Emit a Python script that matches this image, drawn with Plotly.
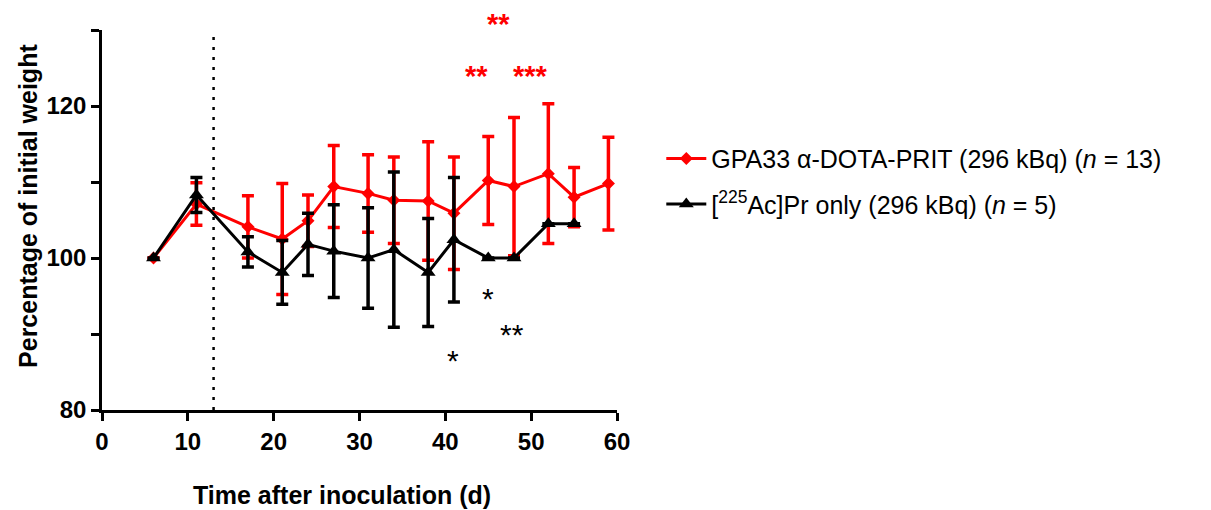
import plotly.graph_objects as go

# Data
days_red = [6, 11, 17, 21, 24, 27, 31, 34, 38, 41, 45, 48, 52, 55, 59]
mean_red = [100, 107.1, 104.1, 102.5, 104.9, 109.4, 108.5, 107.6, 107.5, 105.9, 110.2, 109.4, 111.1, 108.0, 109.8]
err_red = [0, 2.8, 4.1, 7.3, 3.4, 5.4, 5.1, 5.7, 7.8, 7.4, 5.8, 9.1, 9.2, 3.9, 6.1]

days_blk = [6, 11, 17, 21, 24, 27, 31, 34, 38, 41, 45, 48, 52, 55]
mean_blk = [100, 108.3, 100.8, 98.1, 101.8, 100.9, 100.0, 101.1, 98.1, 102.4, 100.0, 100.0, 104.5, 104.5]
err_blk = [0, 2.3, 2.0, 4.2, 4.1, 6.1, 6.6, 10.2, 7.1, 8.2, 0, 0, 0, 0]

name_red = "GPA33 α-DOTA-PRIT (296 kBq) (<i>n</i> = 13)"
name_blk = "[<sup>225</sup>Ac]Pr only (296 kBq) (<i>n</i> = 5)"

x_title = "Time after inoculation (d)"
y_title = "Percentage of initial weight"

treat_day = 13

sig_x = [46.2, 43.6, 49.9, 45.0, 47.8, 40.9]
sig_y = [131.3, 124.5, 124.5, 95.0, 90.2, 86.9]
sig_text = ["**", "**", "***", "*", "**", "*"]
sig_color = ["red", "red", "red", "black", "black", "black"]

Y0, Y1 = 80, 130

RED = "#ff0000"
BLK = "#000000"
FONT = "Arial, Liberation Sans, sans-serif"

fig = go.Figure()
fig.add_trace(go.Scatter(
    x=days_red, y=mean_red, name=name_red, mode="lines+markers", legendgroup="a",
    line=dict(color=RED, width=3),
    marker=dict(symbol="diamond", size=10, color=RED),
    error_y=dict(type="data", array=err_red, color=RED, thickness=3.5, width=6),
    cliponaxis=False,
))
fig.add_trace(go.Scatter(
    x=days_blk, y=mean_blk, name=name_blk, mode="lines+markers", legendgroup="b",
    line=dict(color=BLK, width=3),
    marker=dict(symbol="triangle-up", size=13, color=BLK),
    error_y=dict(type="data", array=err_blk, color=BLK, thickness=3.5, width=6),
    cliponaxis=False,
))

fig.add_shape(type="line", x0=treat_day, x1=treat_day, y0=Y0, y1=Y1,
              xref="x", yref="y", line=dict(color="black", width=2.5, dash="3px,7px"))

for x, y, t, c in zip(sig_x, sig_y, sig_text, sig_color):
    bold = c == "red"
    fig.add_annotation(x=x, y=(y - Y0) / (Y1 - Y0), text=t, showarrow=False,
                       xref="x", yref="paper", yshift=14 if bold else -21,
                       font=dict(family=FONT, size=29 if bold else 30, color=c,
                                 weight="bold" if bold else "normal"))

title_font = dict(family=FONT, size=25, color="black", weight="bold")
fig.add_annotation(x=0.466, y=-0.224, xref="paper", yref="paper", text=x_title,
                   showarrow=False, font=title_font, xanchor="center", yanchor="middle")
fig.add_annotation(x=-0.1437, y=0.537, xref="paper", yref="paper", text=y_title,
                   showarrow=False, font=title_font, textangle=-90,
                   xanchor="center", yanchor="middle")

tick_font = dict(family=FONT, size=24, color="black", weight="bold")
fig.update_xaxes(
    range=[0, 60], tickvals=[0, 10, 20, 30, 40, 50, 60], automargin=False,
    showline=True, linecolor="black", linewidth=2.5,
    ticks="outside", ticklen=8, tickwidth=2.5, tickcolor="black",
    showgrid=False, zeroline=False, tickfont=tick_font,
)
fig.update_yaxes(
    range=[Y0, Y1], tickvals=[80, 100, 120], automargin=False,
    showline=True, linecolor="black", linewidth=2.5,
    ticks="outside", ticklen=8, tickwidth=2.5, tickcolor="black",
    minor=dict(tickvals=[90, 110, 130], ticks="outside", ticklen=8, tickwidth=2.5, tickcolor="black", showgrid=False),
    showgrid=False, zeroline=False, tickfont=tick_font,
)

fig.update_layout(
    width=1211, height=510,
    margin=dict(l=94, r=602, t=22, b=108),
    plot_bgcolor="white", paper_bgcolor="white",
    legend=dict(x=1.086, y=0.722, xanchor="left", yanchor="top",
                font=dict(family=FONT, size=25, color="black"),
                bgcolor="rgba(0,0,0,0)", tracegroupgap=10, itemwidth=40),
    showlegend=True,
)

fig.write_html("out.html")
